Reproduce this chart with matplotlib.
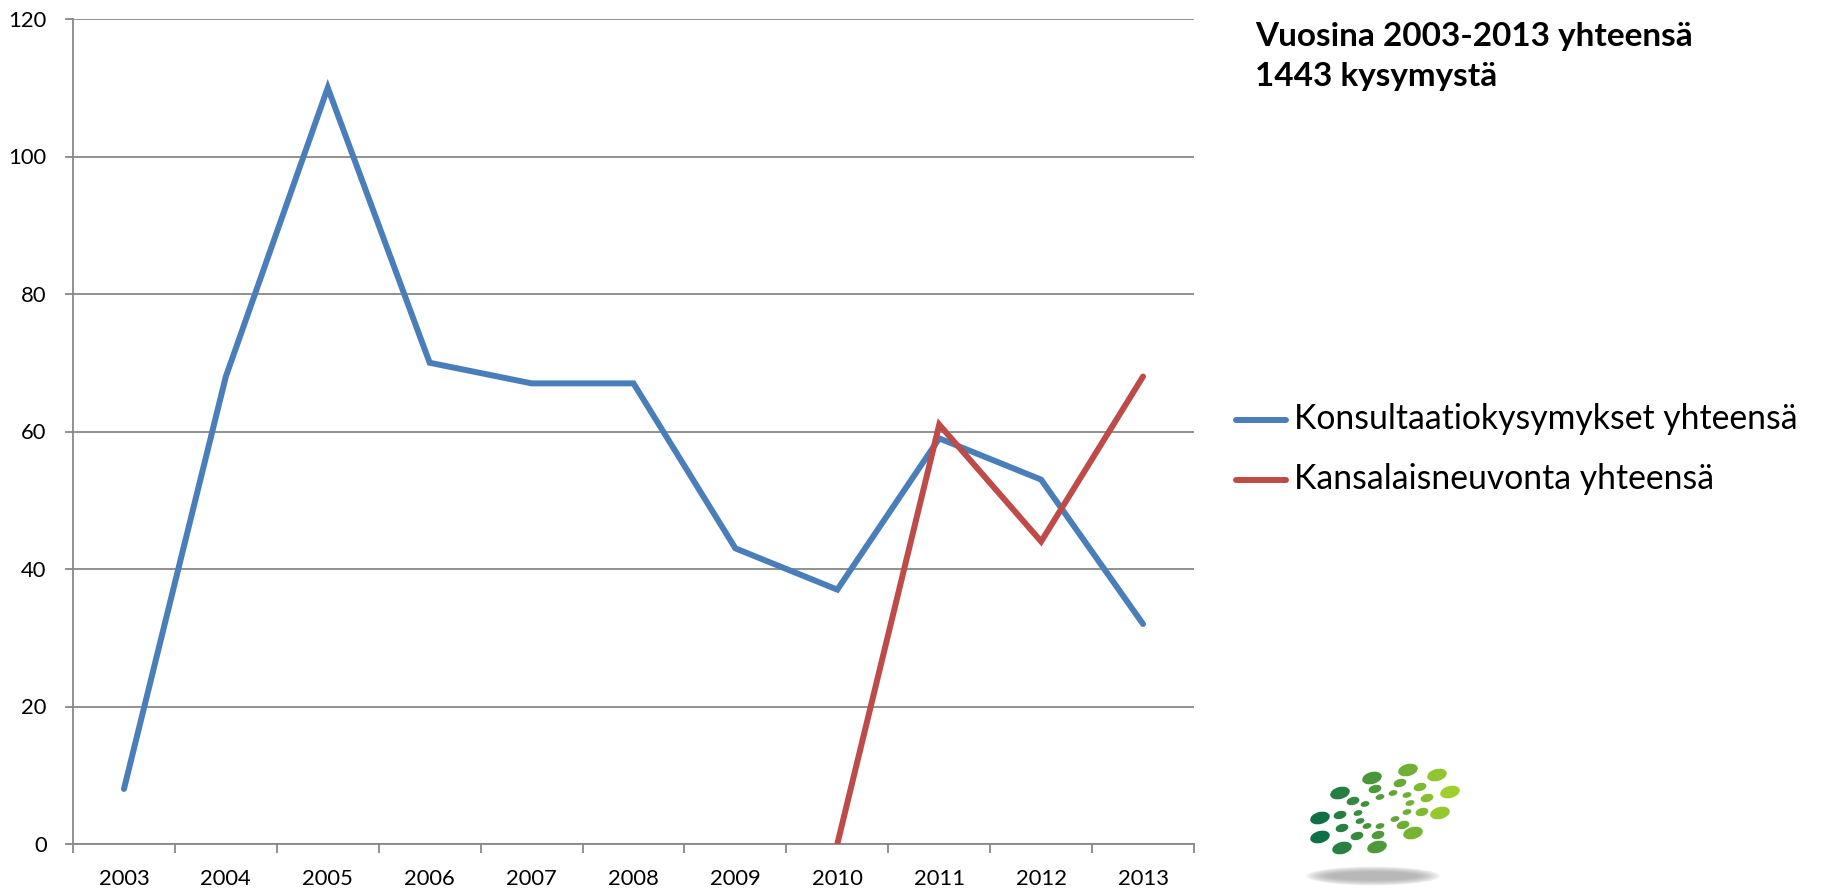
import matplotlib
matplotlib.use("Agg")
import matplotlib.pyplot as plt
from matplotlib.patches import Ellipse
from matplotlib.lines import Line2D
import numpy as np

plt.rcParams['font.family'] = ['Lato', 'DejaVu Sans']

# data
years = ['2003', '2004', '2005', '2006', '2007', '2008', '2009', '2010', '2011', '2012', '2013']
konsultaatio = [8, 68, 110, 70, 67, 67, 43, 37, 59, 53, 32]
kansalais_years = ['2010', '2011', '2012', '2013']
kansalais = [0, 61, 44, 68]
yticks = [0, 20, 40, 60, 80, 100, 120]
title_lines = ['Vuosina 2003-2013 yhteensä', '1443 kysymystä']
series_names = ['Konsultaatiokysymykset yhteensä', 'Kansalaisneuvonta yhteensä']

BLUE = '#4A7EBB'
RED = '#BE4B48'
GRID = '#888888'

W, H = 1821, 892
fig = plt.figure(figsize=(W / 100, H / 100), dpi=100)
renderer = fig.canvas.get_renderer()


def fx(px):
    return px / W


def fy(py):
    return 1 - py / H


def fit_size(text, px, **kw):
    # font size that gives the text the wanted width in pixels
    t = fig.text(0, 0, text, fontsize=10, **kw)
    w = t.get_window_extent(renderer).width
    t.remove()
    return 10 * px / w


tick_fs = fit_size('2003', 51)

ax = fig.add_axes([fx(73), fy(844), fx(1194) - fx(73), fy(19) - fy(844)])

x = np.arange(len(years))
xk = [years.index(y) for y in kansalais_years]
l1, = ax.plot(x, konsultaatio, color=BLUE, lw=4.3, solid_joinstyle='miter',
              solid_capstyle='round', zorder=3)
l2, = ax.plot(xk, kansalais, color=RED, lw=4.3, solid_joinstyle='miter',
              solid_capstyle='round', zorder=4)

ax.set_xlim(-0.5, len(years) - 0.5)
ax.set_ylim(0, 120)
ax.set_yticks(yticks)
ax.yaxis.grid(True, color=GRID, lw=1.3)
ax.set_axisbelow(True)
ax.set_xticks(x)
ax.set_xticklabels(years)
ax.set_xticks(np.arange(-0.5, len(years)), minor=True)
ax.tick_params(axis='x', which='major', length=0, labelsize=tick_fs, pad=18)
ax.tick_params(axis='x', which='minor', length=6.5, width=1.3, color=GRID, direction='out')
ax.tick_params(axis='y', length=6, width=1.3, color=GRID, labelsize=tick_fs, pad=13)
for s in ['top', 'right']:
    ax.spines[s].set_visible(False)
for s in ['left', 'bottom']:
    ax.spines[s].set_color(GRID)
    ax.spines[s].set_linewidth(1.3)

# title text on the right
title_fs = fit_size(title_lines[0], 438, fontweight='bold')
fig.text(fx(1255), fy(46), title_lines[0], fontsize=title_fs, fontweight='bold', va='baseline')
fig.text(fx(1255), fy(86), title_lines[1], fontsize=title_fs, fontweight='bold', va='baseline')

# legend, laid out by hand
leg_fs = fit_size(series_names[0], 503)
for line, name, row in [(l1, series_names[0], 420), (l2, series_names[1], 480)]:
    fig.add_artist(Line2D([fx(1236), fx(1286)], [fy(row), fy(row)], color=line.get_color(),
                          lw=4.3, solid_capstyle='round'))
    fig.text(fx(1294), fy(row + 9), name, fontsize=leg_fs, va='baseline')

# logo in the bottom right
lax = fig.add_axes([fx(1280), fy(892), fx(200), 142 / H])
lax.set_xlim(0, 200)
lax.set_ylim(142, 0)
lax.axis('off')
# shadow
for k in range(8):
    lax.add_patch(Ellipse((93, 126), 134 - k * 6, 19 - k * 1.5,
                          color='#9a9a9a', alpha=0.13, lw=0))
dots = [
    (92, 28, 20, 12), (128, 20, 20, 12), (157, 25, 20, 12), (170, 42, 20, 12),
    (160, 63, 20, 12), (133, 83, 20, 12), (97, 97, 20, 12), (62, 98, 20, 12),
    (40, 87, 20, 12), (40, 68, 20, 12), (60, 43, 20, 12),
    (73, 51, 13, 8), (60, 65, 13, 8), (62, 78, 13, 8), (77, 86, 13, 8),
    (98, 85, 13, 8), (123, 75, 13, 8), (142, 62, 13, 8), (147, 48, 13, 8),
    (140, 37, 13, 8), (120, 33, 13, 8), (95, 39, 13, 8),
    (85, 54, 9, 5.5), (78, 63, 9, 5.5), (80, 71, 9, 5.5), (87, 76, 9, 5.5),
    (100, 76, 9, 5.5), (115, 69, 9, 5.5), (127, 62, 9, 5.5), (130, 53, 9, 5.5),
    (127, 45, 9, 5.5), (113, 43, 9, 5.5), (100, 47, 9, 5.5),
]
c0 = np.array([0x10, 0x70, 0x45]) / 255
c1 = np.array([0x9e, 0xcf, 0x2c]) / 255
for cx, cy, w, h in dots:
    t = np.clip((cx - 40) / 130, 0, 1)
    col = c0 * (1 - t) + c1 * t
    lax.add_patch(Ellipse((cx, cy), w, h, angle=-15, color=col, lw=0))

fig.savefig('out.png', dpi=100)
